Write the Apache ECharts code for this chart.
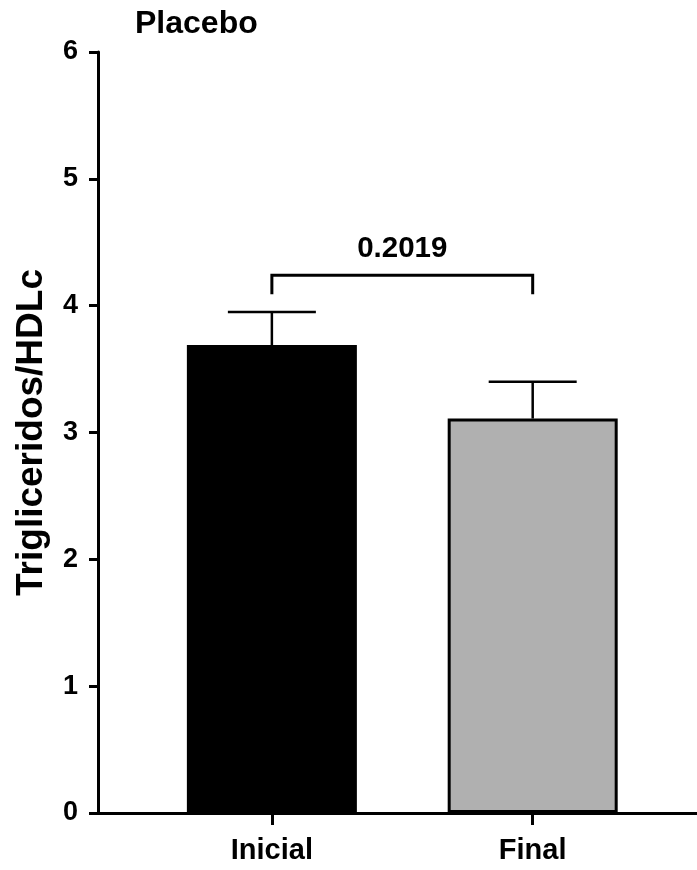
<!DOCTYPE html>
<html>
<head>
<meta charset="utf-8">
<script src="https://cdn.jsdelivr.net/npm/echarts@6/dist/echarts.min.js"></script>
<style>
html,body{margin:0;padding:0;background:#fff;}
#chart{width:697px;height:870px;}
</style>
</head>
<body>
<div id="chart"></div>
<script>
// ---- data ----
const chartTitle = 'Placebo';
const yAxisName = 'Trigliceridos/HDLc';
const categories = ['Inicial', 'Final'];
const means = [3.69, 3.11];
const errUpper = [3.95, 3.40];
const barColors = ['#000000', '#b0b0b0'];
const pValueLabel = '0.2019';
const bracketLevel = 4.24;
const bracketDrop = 4.09;
const yMin = 0, yMax = 6, yInterval = 1;

// ---- build ----
const FONT = '"Liberation Sans", Arial, sans-serif';
const positions = categories.map((c, i) => i + 1);
const barData = positions.map((x, i) => ({
  value: [x, means[i]],
  itemStyle: { color: barColors[i], borderColor: '#000', borderWidth: 3 }
}));
const errData = positions.map((x, i) => [x, means[i], errUpper[i]]);
const bracketData = [[positions[0], positions[1], bracketLevel, bracketDrop]];

const chart = echarts.init(document.getElementById('chart'), null, { renderer: 'canvas' });
chart.setOption({
  animation: false,
  backgroundColor: '#ffffff',
  title: {
    text: chartTitle,
    left: 130, top: 3,
    textStyle: { fontFamily: FONT, fontWeight: 'bold', fontSize: 32, color: '#000' }
  },
  grid: { left: 98, right: 0, top: 52, bottom: 57, containLabel: false },
  xAxis: {
    type: 'value',
    min: 1 / 3,
    max: 2.63,
    splitLine: { show: false },
    axisLine: { show: true, onZero: true, lineStyle: { color: '#000', width: 3 } },
    axisTick: { show: true, customValues: positions, length: 12, lineStyle: { color: '#000', width: 3 } },
    axisLabel: {
      customValues: positions,
      formatter: v => categories[Math.round(v) - 1] || '',
      margin: 23,
      fontFamily: FONT, fontWeight: 'bold', fontSize: 29, color: '#000'
    }
  },
  yAxis: {
    type: 'value',
    min: yMin, max: yMax, interval: yInterval,
    name: yAxisName,
    nameLocation: 'middle',
    nameRotate: 90,
    nameGap: 48,
    nameTextStyle: { fontFamily: FONT, fontWeight: 'bold', fontSize: 37, color: '#000' },
    splitLine: { show: false },
    axisLine: { show: true, lineStyle: { color: '#000', width: 3 } },
    axisTick: { show: true, length: 9, lineStyle: { color: '#000', width: 3 } },
    axisLabel: { margin: 20, fontFamily: FONT, fontWeight: 'bold', fontSize: 27, color: '#000' }
  },
  series: [
    {
      type: 'bar',
      barWidth: 170,
      data: barData,
      z: 2
    },
    {
      type: 'custom',
      data: errData,
      encode: { x: 0, y: [1, 2] },
      z: 3,
      renderItem: function (params, api) {
        const x = api.value(0);
        const p0 = api.coord([x, api.value(1)]);
        const p1 = api.coord([x, api.value(2)]);
        const half = 44;
        const st = { stroke: '#000', lineWidth: 2.5 };
        return {
          type: 'group',
          children: [
            { type: 'line', shape: { x1: p0[0], y1: p0[1], x2: p1[0], y2: p1[1] }, style: st },
            { type: 'line', shape: { x1: p1[0] - half, y1: p1[1], x2: p1[0] + half, y2: p1[1] }, style: st }
          ]
        };
      }
    },
    {
      type: 'custom',
      data: bracketData,
      encode: { x: [0, 1], y: [2, 3] },
      z: 3,
      renderItem: function (params, api) {
        const a = api.coord([api.value(0), api.value(2)]);
        const b = api.coord([api.value(1), api.value(2)]);
        const a2 = api.coord([api.value(0), api.value(3)]);
        const b2 = api.coord([api.value(1), api.value(3)]);
        return {
          type: 'group',
          children: [
            {
              type: 'polyline',
              shape: { points: [[a2[0], a2[1]], [a[0], a[1]], [b[0], b[1]], [b2[0], b2[1]]] },
              style: { stroke: '#000', lineWidth: 3, fill: null }
            },
            {
              type: 'text',
              style: {
                text: pValueLabel,
                x: (a[0] + b[0]) / 2,
                y: a[1] - 26,
                align: 'center',
                verticalAlign: 'middle',
                fontFamily: FONT, fontWeight: 'bold', fontSize: 29.5,
                fill: '#000'
              }
            }
          ]
        };
      }
    }
  ]
});
</script>
</body>
</html>
